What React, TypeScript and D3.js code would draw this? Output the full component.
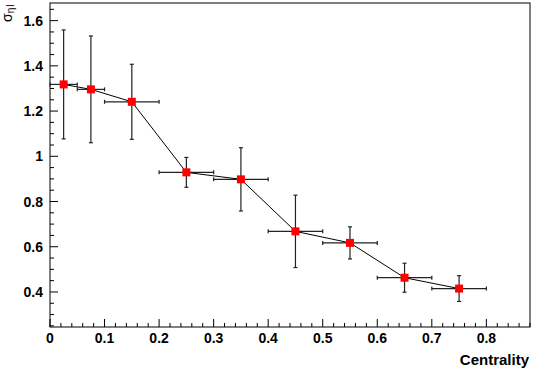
import { useEffect, useRef } from 'react'
import * as d3 from 'd3'

const W = 533, H = 369
const M = { top: 3, right: 3, bottom: 42, left: 50 }

// centrality bin centre, half width, sigma, error
const centX = [0.025, 0.075, 0.15, 0.25, 0.35, 0.45, 0.55, 0.65, 0.75]
const centErr = [0.025, 0.025, 0.05, 0.05, 0.05, 0.05, 0.05, 0.05, 0.05]
const sigma = [1.318, 1.296, 1.241, 0.929, 0.898, 0.668, 0.617, 0.463, 0.415]
const sigmaErr = [0.241, 0.236, 0.166, 0.066, 0.14, 0.16, 0.071, 0.064, 0.057]

const xTicks = [0, 0.1, 0.2, 0.3, 0.4, 0.5, 0.6, 0.7, 0.8]
const yTicks = [0.4, 0.6, 0.8, 1, 1.2, 1.4, 1.6]

const FONT = 'Liberation Sans, Arial, Helvetica, sans-serif'

export default function App() {
  const svgRef = useRef<SVGSVGElement>(null)

  useEffect(() => {
    const svg = d3.select(svgRef.current!)
    svg.selectAll('*').remove()

    const x = d3.scaleLinear().domain([0, 0.88]).range([M.left, W - M.right])
    const y = d3.scaleLinear().domain([0.245, 1.678]).range([H - M.bottom, M.top])

    const data = centX.map((c, i) => ({ c, ce: centErr[i], s: sigma[i], se: sigmaErr[i] }))

    // frame
    svg.append('rect')
      .attr('x', x(0)).attr('y', y(1.678))
      .attr('width', x(0.88) - x(0)).attr('height', y(0.245) - y(1.678))
      .attr('fill', 'none').attr('stroke', '#000').attr('stroke-width', 1)

    // x axis ticks (inward)
    const y0 = y(0.245)
    const xMinor = d3.range(0, 0.881, 0.02)
    svg.append('g').selectAll('line').data(xMinor).join('line')
      .attr('x1', d => x(d)).attr('x2', d => x(d))
      .attr('y1', y0)
      .attr('y2', (_, i) => y0 - (i % 5 === 0 ? 8 : 4))
      .attr('stroke', '#000').attr('stroke-width', 1)
    svg.append('g').selectAll('text').data(xTicks).join('text')
      .attr('x', d => x(d)).attr('y', y0 + 16)
      .attr('text-anchor', 'middle')
      .attr('font-family', FONT).attr('font-weight', 'bold').attr('font-size', 14)
      .text(d => d === 0 ? '0' : d3.format('.1f')(d))

    // y axis ticks (inward)
    const x0 = x(0)
    const yMinor = d3.range(0.25, 1.678, 0.05)
    svg.append('g').selectAll('line').data(yMinor).join('line')
      .attr('x1', x0)
      .attr('x2', d => x0 + (Math.abs(Math.round(d * 100) % 20) === 0 ? 8 : 4))
      .attr('y1', d => y(d)).attr('y2', d => y(d))
      .attr('stroke', '#000').attr('stroke-width', 1)
    svg.append('g').selectAll('text').data(yTicks).join('text')
      .attr('x', x0 - 7).attr('y', d => y(d))
      .attr('text-anchor', 'end').attr('dominant-baseline', 'central')
      .attr('font-family', FONT).attr('font-weight', 'bold').attr('font-size', 14)
      .text(d => d === 1 ? '1' : d3.format('.1f')(d))

    // axis titles
    svg.append('text')
      .attr('x', W - 4).attr('y', H - 4)
      .attr('text-anchor', 'end')
      .attr('font-family', FONT).attr('font-weight', 'bold').attr('font-size', 15)
      .text('Centrality')

    const yt = svg.append('text')
      .attr('transform', `translate(12,22) rotate(-90)`)
      .attr('text-anchor', 'start')
      .attr('font-family', FONT).attr('font-size', 14)
    yt.append('tspan').text('σ')
    yt.append('tspan').attr('font-size', 10).attr('dy', 2).text('η')
    yt.append('tspan').attr('font-size', 10).attr('dx', 1).text('l')

    // error bars
    const eb = svg.append('g').attr('stroke', '#222').attr('stroke-width', 1.2)
    data.forEach(d => {
      eb.append('line').attr('x1', x(d.c - d.ce)).attr('x2', x(d.c + d.ce))
        .attr('y1', y(d.s)).attr('y2', y(d.s))
      eb.append('line').attr('x1', x(d.c)).attr('x2', x(d.c))
        .attr('y1', y(d.s - d.se)).attr('y2', y(d.s + d.se))
      ;[d.c - d.ce, d.c + d.ce].forEach(v => {
        eb.append('line').attr('x1', x(v)).attr('x2', x(v))
          .attr('y1', y(d.s) - 2).attr('y2', y(d.s) + 2)
      })
      ;[d.s - d.se, d.s + d.se].forEach(v => {
        eb.append('line').attr('x1', x(d.c) - 2).attr('x2', x(d.c) + 2)
          .attr('y1', y(v)).attr('y2', y(v))
      })
    })

    // connecting line
    svg.append('path').datum(data)
      .attr('fill', 'none').attr('stroke', '#000').attr('stroke-width', 1)
      .attr('d', d3.line<typeof data[0]>().x(d => x(d.c)).y(d => y(d.s)))

    // markers
    svg.append('g').selectAll('rect').data(data).join('rect')
      .attr('x', d => x(d.c) - 4).attr('y', d => y(d.s) - 4)
      .attr('width', 8).attr('height', 8)
      .attr('fill', '#ff0000')
  }, [])

  return (
    <svg ref={svgRef} width={W} height={H}
      style={{ position: 'absolute', left: 0, top: 0, background: '#fff' }} />
  )
}
